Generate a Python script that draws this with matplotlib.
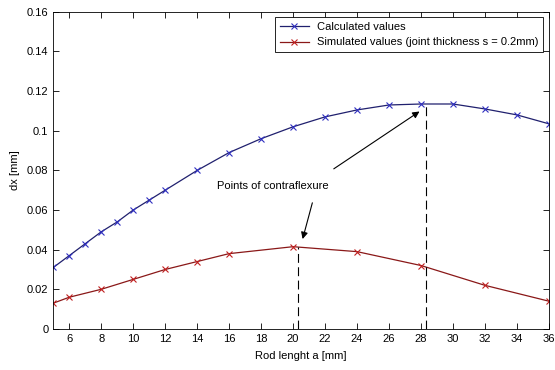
import matplotlib
matplotlib.use('Agg')
import matplotlib.pyplot as plt
from matplotlib.ticker import FuncFormatter

plt.rcParams['font.family'] = ['Liberation Sans Narrow', 'Liberation Sans', 'DejaVu Sans']
plt.rcParams['font.size'] = 8

# calculated values
calc_a = [5, 6, 7, 8, 9, 10, 11, 12, 14, 16, 18, 20, 22, 24, 26, 28, 30, 32, 34, 36]
calc_dx = [0.031, 0.037, 0.043, 0.049, 0.054, 0.060, 0.065, 0.070, 0.080, 0.089,
           0.096, 0.102, 0.107, 0.1105, 0.113, 0.1135, 0.1135, 0.111, 0.108, 0.1035]

# simulated values (joint thickness s = 0.2mm)
sim_a = [5, 6, 8, 10, 12, 14, 16, 20, 24, 28, 32, 36]
sim_dx = [0.013, 0.016, 0.020, 0.025, 0.030, 0.034, 0.038, 0.0415, 0.039, 0.032, 0.022, 0.014]

# points of contraflexure
flex_a = [20.3, 28.3]
flex_dx = [0.0415, 0.1135]

xticks = list(range(6, 37, 2))
yticks = [0, 0.02, 0.04, 0.06, 0.08, 0.1, 0.12, 0.14, 0.16]

fig = plt.figure(figsize=(5.55, 3.7), dpi=100)
ax = fig.add_axes([0.096, 0.111, 0.893, 0.857])

ax.plot(calc_a, calc_dx, color='#20206e', lw=0.9, marker='x', ms=4, mew=0.8,
        mec='#3030c0', label='Calculated values')
ax.plot(sim_a, sim_dx, color='#8a1818', lw=0.9, marker='x', ms=4, mew=0.8,
        mec='#c02020', label='Simulated values (joint thickness s = 0.2mm)')

for a, d in zip(flex_a, flex_dx):
    ax.plot([a, a], [0, d], color='black', lw=0.8, ls=(0, (8, 4)))

ax.annotate('', xy=(28.05, 0.1105), xytext=(22.4, 0.080),
            arrowprops=dict(arrowstyle='-|>', color='black', lw=0.8, mutation_scale=10))
ax.annotate('', xy=(20.55, 0.0440), xytext=(21.25, 0.065),
            arrowprops=dict(arrowstyle='-|>', color='black', lw=0.8, mutation_scale=10))
ax.text(18.75, 0.0722, 'Points of contraflexure', ha='center', va='center', fontsize=8)

ax.set_xlim(5, 36)
ax.set_ylim(0, 0.16)
ax.set_xticks(xticks)
ax.set_yticks(yticks)
ax.yaxis.set_major_formatter(FuncFormatter(lambda v, p: '%g' % v))
ax.tick_params(direction='in', top=True, right=True, length=4, width=0.6, labelsize=8)
for s in ax.spines.values():
    s.set_linewidth(0.6)

ax.set_xlabel('Rod lenght a [mm]', labelpad=5)
ax.set_ylabel('dx [mm]', labelpad=5)

leg = ax.legend(loc='upper right', fontsize=8, fancybox=False, framealpha=1,
                edgecolor='black', borderaxespad=0.5, handlelength=2.6)
leg.get_frame().set_linewidth(0.6)

fig.savefig('out.png', dpi=100)
